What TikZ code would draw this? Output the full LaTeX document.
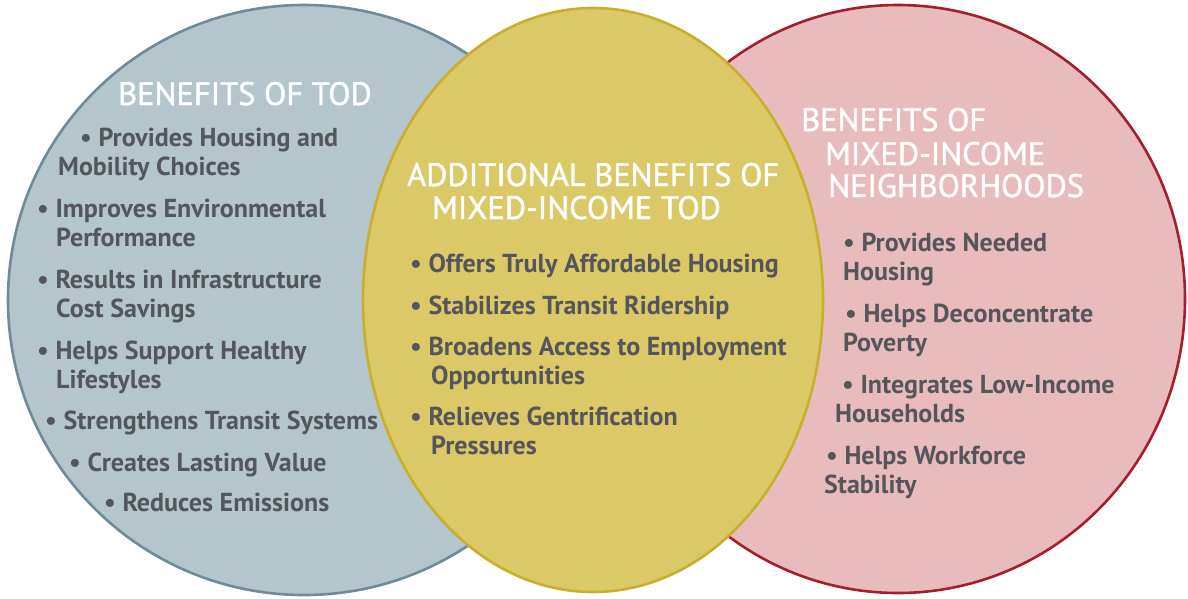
\documentclass[tikz,border=0pt]{standalone}
\usepackage{fontspec}
\setmainfont{PT Sans}
\newfontfamily\ttlfont[FakeBold=1.4]{PT Sans}
\definecolor{bluefill}{HTML}{B4C5CC}
\definecolor{blueline}{HTML}{6F8A98}
\definecolor{yelfill}{HTML}{DBC866}
\definecolor{yelline}{HTML}{C9AE2C}
\definecolor{pinkfill}{HTML}{E8BCBD}
\definecolor{pinkline}{HTML}{A31F2B}
\definecolor{bodytext}{HTML}{54565C}
\tikzset{
  setcircle/.style={line width=2.6pt},
  ttl/.style={anchor=base west, inner sep=0pt, text=white, font=\ttlfont\fontsize{32.5}{35}\selectfont},
  itm/.style={anchor=base west, inner sep=0pt, text=bodytext, font=\fontsize{26}{30}\selectfont\bfseries},
}
\begin{document}
\begin{tikzpicture}[x=1pt,y=-1pt]
\useasboundingbox (0,0) rectangle (1188,598);
% sets
\draw[setcircle, fill=bluefill, draw=blueline] (304,300) ellipse [x radius=296, y radius=295];
\draw[setcircle, fill=pinkfill, draw=pinkline] (898,299) ellipse [x radius=287, y radius=294];
\draw[setcircle, fill=yelfill, draw=yelline] (593,300) ellipse [x radius=230, y radius=292];
% left
\node[ttl] (lt) at (118,105) {BENEFITS OF TOD};
\node[itm] (l1) at (80,146) {• Provides Housing and};
\node[itm] (l1b) at (58,175) {Mobility Choices};
\node[itm] (l2) at (37,217) {• Improves Environmental};
\node[itm] (l2b) at (56,246) {Performance};
\node[itm] (l3) at (37,288) {• Results in Infrastructure};
\node[itm] (l3b) at (56,317) {Cost Savings};
\node[itm] (l4) at (37,359) {• Helps Support Healthy};
\node[itm] (l4b) at (56,388) {Lifestyles};
\node[itm] (l5) at (45,429) {• Strengthens Transit Systems};
\node[itm] (l6) at (69,471) {• Creates Lasting Value};
\node[itm] (l7) at (104,511) {• Reduces Emissions};
% middle
\node[ttl] (mt) at (407,186) {ADDITIONAL BENEFITS OF};
\node[ttl] (mt2) at (432,219) {MIXED-INCOME TOD};
\node[itm] (m1) at (410,272) {• Offers Truly Affordable Housing};
\node[itm] (m2) at (410,314) {• Stabilizes Transit Ridership};
\node[itm] (m3) at (410,355) {• Broadens Access to Employment};
\node[itm] (m3b) at (431,384) {Opportunities};
\node[itm] (m4) at (410,425) {• Relieves Gentrification};
\node[itm] (m4b) at (431,454) {Pressures};
% right
\node[ttl] (rt) at (801,131) {BENEFITS OF};
\node[ttl] (rt2) at (825,165) {MIXED-INCOME};
\node[ttl] (rt3) at (828,197) {NEIGHBORHOODS};
\node[itm] (r1) at (843,251) {• Provides Needed};
\node[itm] (r1b) at (843,280) {Housing};
\node[itm] (r2) at (845,322) {• Helps Deconcentrate};
\node[itm] (r2b) at (843,351) {Poverty};
\node[itm] (r3) at (842,393) {• Integrates Low-Income};
\node[itm] (r3b) at (835,422) {Households};
\node[itm] (r4) at (826,464) {• Helps Workforce};
\node[itm] (r4b) at (824,493) {Stability};
\end{tikzpicture}
\end{document}
